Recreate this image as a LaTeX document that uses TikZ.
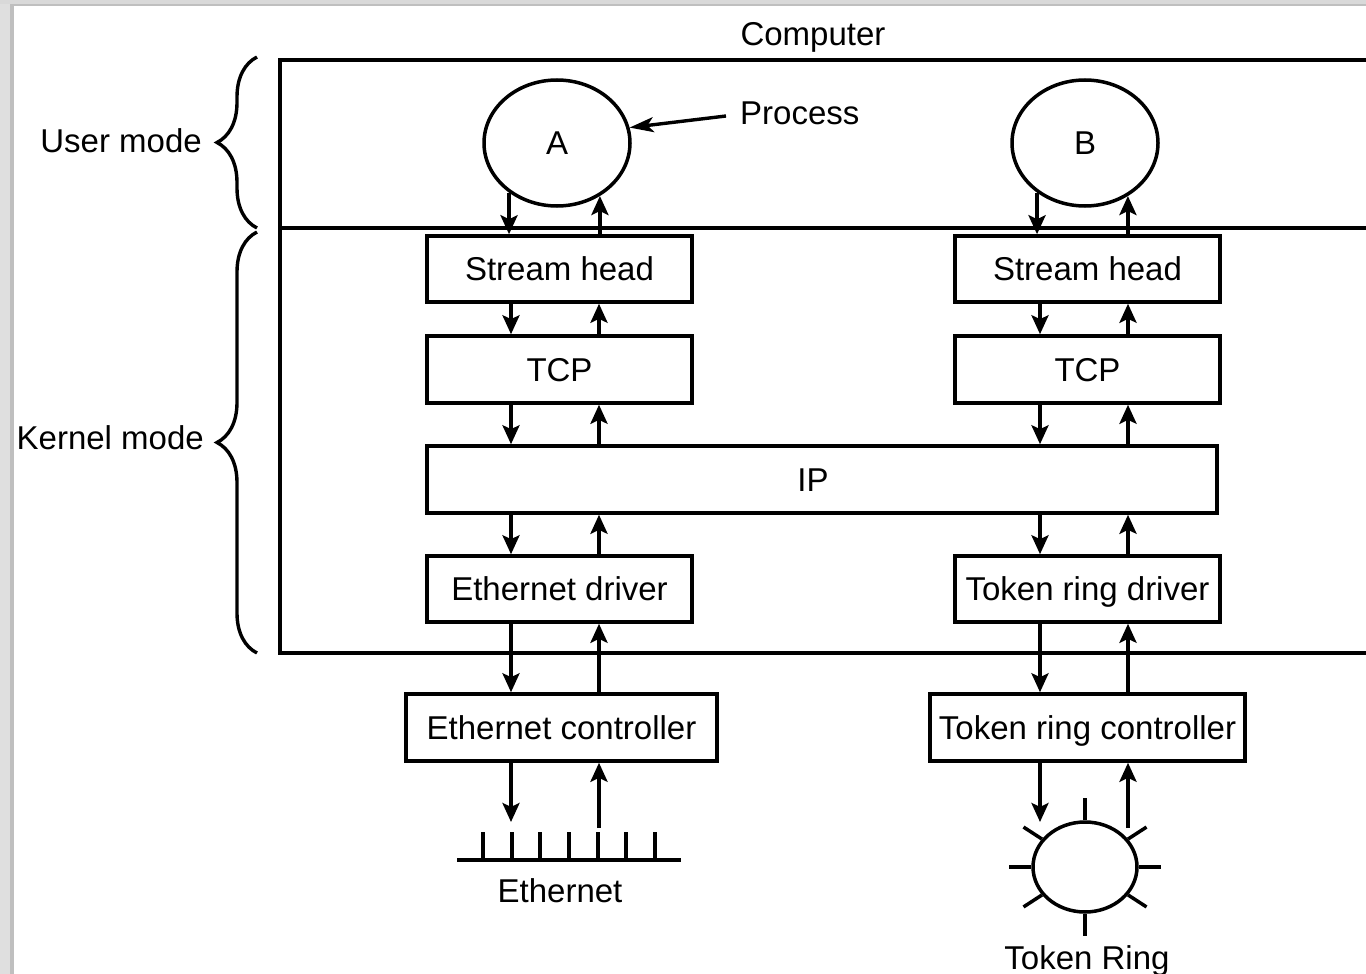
\documentclass[tikz,border=0pt]{standalone}
\usepackage{fontspec}
\setmainfont{Liberation Sans}
\usetikzlibrary{arrows.meta,decorations.pathreplacing,shapes.geometric,calc}
\begin{document}
\begin{tikzpicture}[x=1pt,y=-1pt,
  font=\fontsize{33}{39}\selectfont,
  lbl/.style={inner sep=0pt,text height=23.5pt,text depth=0pt},
  box/.style={lbl,draw,line width=3.5pt,minimum height=66pt},
  lbox/.style={box,minimum width=265pt},
  proc/.style={lbl,draw,ellipse,line width=3.5pt,minimum width=146pt,minimum height=126pt},
  arr/.style={line width=3.8pt,-{Stealth[length=19pt,width=17pt,inset=4pt]}},
  parr/.style={line width=3.4pt,-{Stealth[length=24pt,width=15pt,inset=6pt]}},
  framepath/.style={line width=3.5pt},
  brc/.style={decorate,decoration={brace,amplitude=40pt},line width=3.4pt},
  wire/.style={line width=3.5pt}]
\clip (0,0) rectangle (1366,974);
\fill[white] (0,0) rectangle (1366,974);
% shadow border
\fill[gray!25] (0,0) rectangle (10,974);
\fill[gray!50] (10,0) rectangle (14,974);
\fill[gray!30] (0,0) rectangle (1366,4);
\fill[gray!50] (10,4) rectangle (1366,6);

% computer frame
\node[lbl] (comp) at (813,34) {Computer};
\draw[framepath] (1380,60) -- (280,60) -- (280,653) -- (1380,653);
\draw[framepath] (280,228) -- (1380,228);

% braces
\draw[brc] (257,228) -- (257,57);
\draw[brc] (257,653) -- (257,232);
\node[lbl,anchor=east] (um) at (202,141) {User mode};
\node[lbl,anchor=east] (km) at (204,438) {Kernel mode};

% processes
\node[proc] (A) at (557,143) {A};
\node[proc] (B) at (1085,143) {B};
\node[lbl,anchor=west] (proclbl) at (740,113) {Process};
\draw[parr] ([xshift=-14pt,yshift=-3pt]proclbl.west) -- (A.12);

% stacks
\node[lbox] (sha) at (559.5,269) {Stream head};
\node[lbox,minimum height=67pt] (tcpa) at (559.5,369.5) {TCP};
\node[box,minimum width=790pt,minimum height=67pt] (ip) at (822,479.5) {\hspace*{-18pt}IP};
\node[lbox] (etd) at (559.5,589) {Ethernet driver};
\node[box,minimum width=311pt,minimum height=67pt] (etc) at (561.5,727.5) {Ethernet controller};

\node[lbox] (shb) at (1087.5,269) {Stream head};
\node[lbox,minimum height=67pt] (tcpb) at (1087.5,369.5) {TCP};
\node[lbox] (trd) at (1087.5,589) {Token ring driver};
\node[box,minimum width=315pt,minimum height=67pt] (trc) at (1087.5,727.5) {Token ring controller};

\coordinate (xa1) at (511,0);
\coordinate (xa2) at (599,0);
\coordinate (xb1) at (1040,0);
\coordinate (xb2) at (1128,0);

% A column
\draw[arr] (A.226.8) -- (A.226.8 |- sha.north);
\draw[arr] (A.309.2 |- sha.north) -- (A.309.2);
\draw[arr] (sha.south -| xa1) -- (tcpa.north -| xa1);
\draw[arr] (tcpa.north -| xa2) -- (sha.south -| xa2);
\draw[arr] (tcpa.south -| xa1) -- (ip.north -| xa1);
\draw[arr] (ip.north -| xa2) -- (tcpa.south -| xa2);
\draw[arr] (ip.south -| xa1) -- (etd.north -| xa1);
\draw[arr] (etd.north -| xa2) -- (ip.south -| xa2);
\draw[arr] (etd.south -| xa1) -- (etc.north -| xa1);
\draw[arr] (etc.north -| xa2) -- (etd.south -| xa2);

% B column
\draw[arr] (B.226.8) -- (B.226.8 |- shb.north);
\draw[arr] (B.309.2 |- shb.north) -- (B.309.2);
\draw[arr] (shb.south -| xb1) -- (tcpb.north -| xb1);
\draw[arr] (tcpb.north -| xb2) -- (shb.south -| xb2);
\draw[arr] (tcpb.south -| xb1) -- (ip.north -| xb1);
\draw[arr] (ip.north -| xb2) -- (tcpb.south -| xb2);
\draw[arr] (ip.south -| xb1) -- (trd.north -| xb1);
\draw[arr] (trd.north -| xb2) -- (ip.south -| xb2);
\draw[arr] (trd.south -| xb1) -- (trc.north -| xb1);
\draw[arr] (trc.north -| xb2) -- (trd.south -| xb2);

% Ethernet
\coordinate (ethL) at (457,860);
\coordinate (ethR) at (681,860);
\draw[wire] (ethL) -- (ethR);
\foreach \x in {483,512,540,569,598,626,655} \draw[wire] (\x,861) -- (\x,832);
\node[lbl] (ethlbl) at (560,891) {Ethernet};
\coordinate (ethin) at (511,822);
\coordinate (ethout) at (599,828);
\draw[arr] (etc.south -| ethin) -- (ethin);
\draw[arr] (ethout) -- (etc.south -| ethout);

% Token ring
\node[draw,ellipse,line width=3.5pt,minimum width=104pt,minimum height=90pt,inner sep=0pt] (ring) at (1085,867) {};
\foreach \a in {0,33,90,147,180,213,270,327} \draw[wire] (ring.\a) -- ++(\a:22pt);
\node[lbl] (trlbl) at (1087,958) {Token Ring};
\coordinate (trin) at (1040,822);
\coordinate (trout) at (1128,828);
\draw[arr] (trc.south -| trin) -- (trin);
\draw[arr] (trout) -- (trc.south -| trout);
\end{tikzpicture}
\end{document}
